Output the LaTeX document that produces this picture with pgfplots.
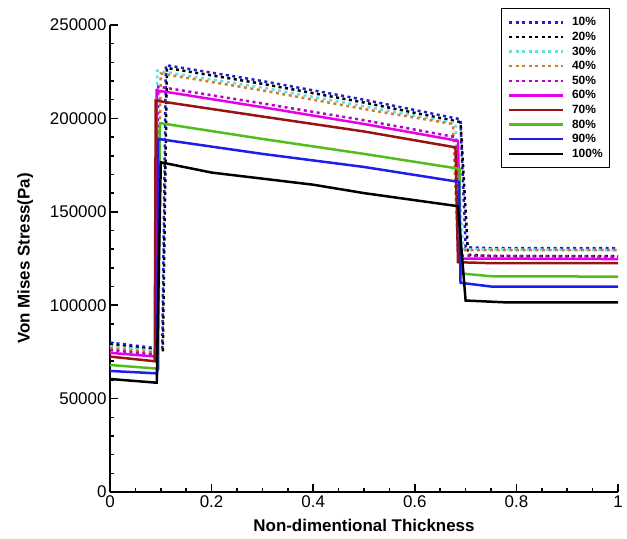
\documentclass[border=0pt]{standalone}
\usepackage{pgfplots}
\pgfplotsset{compat=1.18}
\usepackage{fontspec}
\setmainfont{Liberation Sans}
\definecolor{c10}{RGB}{30,30,210}
\definecolor{c30}{RGB}{100,225,230}
\definecolor{c40}{RGB}{210,125,45}
\definecolor{c50}{RGB}{185,0,200}
\definecolor{c60}{RGB}{230,0,230}
\definecolor{c70}{RGB}{150,20,20}
\definecolor{c80}{RGB}{80,190,30}
\definecolor{c90}{RGB}{30,30,235}
\begin{document}
\begin{tikzpicture}
\useasboundingbox (-110bp,-47bp) rectangle (517bp,492bp);
\begin{axis}[
  at={(0,0)}, anchor=south west,
  scale only axis, width=508bp, height=467bp,
  xmin=0, xmax=1, ymin=0, ymax=250000,
  axis x line=bottom, axis y line=left,
  axis line style={-, line width=2bp},
  tick align=inside,
  major tick length=8bp, minor tick length=4bp,
  every tick/.style={black, line width=1.5bp},
  xtick={0,0.2,0.4,0.6,0.8,1},
  ytick={0,50000,100000,150000,200000,250000},
  minor x tick num=3, minor y tick num=4,
  scaled y ticks=false, scaled x ticks=false,
  /pgf/number format/assume math mode=true,
  /pgf/number format/1000 sep={},
  /pgf/number format/fixed,
  xticklabel style={font=\fontsize{17}{17}\selectfont},
  yticklabel style={font=\fontsize{17}{17}\selectfont},
  xlabel={Non-dimentional Thickness},
  ylabel={Von Mises Stress(Pa)},
  xlabel style={font=\bfseries\fontsize{17}{17}\selectfont, at={(axis description cs:0.5,-0.0707)}, anchor=center},
  ylabel style={font=\bfseries\fontsize{17}{17}\selectfont, at={(axis description cs:-0.167,0.5)}, anchor=center},
  legend cell align=left,
  legend image code/.code={\draw[#1] (0bp,0bp) -- (54bp,0bp);},
  legend style={at={(rel axis cs:0.984,1.036)}, anchor=north east,
    draw=black, line width=0.8bp, inner xsep=6bp, inner ysep=7bp,
    font=\bfseries\fontsize{12}{12}\selectfont, row sep=1bp,
    /tikz/every odd column/.append style={column sep=7bp},
    nodes={inner sep=0.8bp, text height=9.5bp, text depth=2.5bp}},
  every axis plot/.append style={line width=2.5bp, line join=miter},
]
\addplot[c10, dash pattern=on 3bp off 3.5bp] coordinates {
(0,80000) (0.09,77000) (0.103,77000) (0.11,228500) (0.3,220000) (0.5,210000) (0.69,199500) (0.7,131000) (0.75,130500) (1,130500)};
\addlegendentry{10\%}
\addplot[black, dash pattern=on 3bp off 3.5bp] coordinates {
(0,79000) (0.09,76000) (0.104,76000) (0.112,227000) (0.3,218500) (0.5,208500) (0.69,198000) (0.705,127000) (0.75,126300) (1,126300)};
\addlegendentry{20\%}
\addplot[c30, dash pattern=on 3bp off 3.5bp] coordinates {
(0,78000) (0.09,75500) (0.093,225500) (0.3,216500) (0.5,206500) (0.68,197500) (0.695,130000) (1,129500)};
\addlegendentry{30\%}
\addplot[c40, dash pattern=on 3bp off 3.5bp] coordinates {
(0,77000) (0.09,74500) (0.1,224000) (0.3,215000) (0.5,205000) (0.675,197000) (0.685,129500) (1,129500)};
\addlegendentry{40\%}
\addplot[c50, dash pattern=on 3bp off 3.5bp] coordinates {
(0,76000) (0.09,73500) (0.095,217000) (0.3,208000) (0.5,199000) (0.68,190000) (0.69,126500) (1,126000)};
\addlegendentry{50\%}
\addplot[c60] coordinates {
(0,74500) (0.09,72500) (0.092,215000) (0.3,206000) (0.5,197000) (0.685,188000) (0.69,125000) (1,124700)};
\addlegendentry{60\%}
\addplot[c70] coordinates {
(0,72500) (0.088,70000) (0.09,209500) (0.3,201000) (0.5,193000) (0.68,184500) (0.685,123000) (0.75,122500) (1,122500)};
\addlegendentry{70\%}
\addplot[c80] coordinates {
(0,68000) (0.095,66000) (0.098,197500) (0.3,189000) (0.5,181000) (0.688,173000) (0.69,117000) (0.75,115500) (1,115300)};
\addlegendentry{80\%}
\addplot[c90] coordinates {
(0,64800) (0.093,63500) (0.095,189000) (0.3,181000) (0.5,174000) (0.687,166000) (0.69,112000) (0.75,110000) (1,110000)};
\addlegendentry{90\%}
\addplot[black] coordinates {
(0,60500) (0.092,58500) (0.1,176500) (0.2,171000) (0.4,164500) (0.5,160000) (0.685,153000) (0.7,102500) (0.78,101500) (1,101500)};
\addlegendentry{100\%}
\end{axis}
\end{tikzpicture}
\end{document}
